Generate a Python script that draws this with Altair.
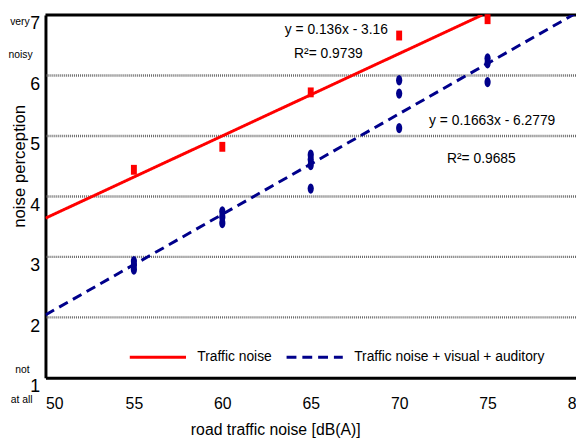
import altair as alt
import pandas as pd

# ---- data ----
red_x = [55, 60, 65, 70, 75]
red_y = [4.44, 4.82, 5.72, 6.66, 6.93]

blue_x = [55, 55, 55, 60, 60, 60, 65, 65, 65, 65, 70, 70, 70, 75, 75, 75]
blue_y = [2.79, 2.86, 2.93, 3.56, 3.66, 3.75, 4.13, 4.52, 4.61, 4.69,
          5.13, 5.70, 5.92, 5.89, 6.20, 6.28]

series_names = ["Traffic noise", "Traffic noise + visual + auditory"]
line_red_x = [50, 74.7]
line_red_y = [3.64, 7.0]
line_blue_x = [50, 80]
line_blue_y = [2.04, 7.03]

eq_text = ["y = 0.136x - 3.16", "R²= 0.9739", "y = 0.1663x - 6.2779", "R²= 0.9685"]
eq_x = [66.45, 66.0, 75.26, 74.65]
eq_y = [6.755, 6.35, 5.24, 4.62]

side_text_a = ["very", "not"]
side_y_a = [6.886, 1.13]
side_text_b = ["noisy", "at all"]
side_y_b = [6.33, 0.625]

x_ticks = [50, 55, 60, 65, 70, 75, 80]
y_ticks = [1, 2, 3, 4, 5, 6, 7]
grid_vals = [2, 3, 4, 5, 6]

FONT = "Liberation Sans, Arial, sans-serif"

lines_df = pd.DataFrame({
    "x": line_red_x + line_blue_x,
    "y": line_red_y + line_blue_y,
    "series": [series_names[0]] * 2 + [series_names[1]] * 2,
})
red_df = pd.DataFrame({"x": red_x, "y": red_y})
blue_df = pd.DataFrame({"x": blue_x, "y": blue_y})
eq_df = pd.DataFrame({"x": eq_x, "y": eq_y, "t": eq_text})
side_a_df = pd.DataFrame({"y": side_y_a, "t": side_text_a})
side_b_df = pd.DataFrame({"y": side_y_b, "t": side_text_b})

xscale = alt.Scale(domain=[50, 80], nice=False, zero=False)
yscale = alt.Scale(domain=[1, 7], nice=False, zero=False)

xaxis = alt.Axis(
    values=x_ticks, format="d", title="road traffic noise [dB(A)]", grid=False, ticks=False,
    domainColor="black", domainWidth=3, labelFont=FONT, labelFontSize=16,
    labelColor="black", labelPadding=18,
    labelAlign=alt.expr("datum.value == 50 ? 'left' : 'center'"),
    titleFont=FONT, titleFontSize=16, titleFontWeight="normal", titleColor="black",
    titleX=233, titleY=52, titleAnchor="middle", titleBaseline="middle",
)
yaxis = alt.Axis(
    values=y_ticks, format="d", title="noise perception", grid=False, ticks=False,
    domainColor="black", domainWidth=3, labelFont=FONT, labelFontSize=18,
    labelColor="black", labelPadding=6, labelBaseline="top",
    titleFont=FONT, titleFontSize=17, titleFontWeight="normal",
    titleColor="black", titleX=-26, titleY=153, titleAngle=270,
    titleAlign="center", titleBaseline="middle",
)

grid = alt.Chart(pd.DataFrame({"g": grid_vals})).mark_rule(
    color="#6a6a6a", strokeWidth=2.5, strokeDash=[1, 1]
).encode(y=alt.Y("g:Q", scale=yscale, axis=yaxis))

top = alt.Chart(pd.DataFrame({"t": [7]})).mark_rule(color="black", strokeWidth=3).encode(
    y=alt.Y("t:Q", scale=yscale)
)

legend_cfg = dict(
    title=None, orient="none", legendX=84, legendY=317, direction="horizontal",
    symbolType="stroke", symbolSize=3249, symbolStrokeWidth=3,
    labelFont=FONT, labelFontSize=14, labelColor="black", labelLimit=400,
    labelOffset=10, columnPadding=8, symbolOffset=0,
)

lines = alt.Chart(lines_df).mark_line(strokeWidth=3, clip=True).encode(
    x=alt.X("x:Q", scale=xscale, axis=xaxis),
    y=alt.Y("y:Q", scale=yscale),
    color=alt.Color("series:N", scale=alt.Scale(domain=series_names, range=["#ff0000", "#00008b"]),
                    legend=alt.Legend(**legend_cfg)),
    strokeDash=alt.StrokeDash("series:N", scale=alt.Scale(domain=series_names, range=[[1, 0], [10, 6]]),
                              legend=alt.Legend(**legend_cfg)),
    detail="series:N",
)

rect_path = "M-0.6,-1 L0.6,-1 L0.6,1 L-0.6,1 Z"
ellipse_path = "M0,-1 A0.6,1 0 1,1 0,1 A0.6,1 0 1,1 0,-1 Z"

red_pts = alt.Chart(red_df).mark_point(shape=rect_path, filled=True, size=100, color="#ff0000", opacity=1).encode(
    x=alt.X("x:Q", scale=xscale), y=alt.Y("y:Q", scale=yscale)
)
blue_pts = alt.Chart(blue_df).mark_point(shape=ellipse_path, filled=True, size=110, color="#00008b", opacity=1).encode(
    x=alt.X("x:Q", scale=xscale), y=alt.Y("y:Q", scale=yscale)
)

eqs = alt.Chart(eq_df).mark_text(font=FONT, fontSize=14, color="black", align="center", baseline="middle").encode(
    x=alt.X("x:Q", scale=xscale), y=alt.Y("y:Q", scale=yscale), text="t:N"
)

side_a = alt.Chart(side_a_df).mark_text(font=FONT, fontSize=10.5, color="black", align="right", baseline="middle").encode(
    x=alt.value(-16), y=alt.Y("y:Q", scale=yscale), text="t:N"
)
side_b = alt.Chart(side_b_df).mark_text(font=FONT, fontSize=10.5, color="black", align="right", baseline="middle").encode(
    x=alt.value(-13), y=alt.Y("y:Q", scale=yscale), text="t:N"
)

chart = alt.layer(grid, top, lines, red_pts, blue_pts, eqs, side_a, side_b).resolve_scale(
    color="shared", strokeDash="shared"
).properties(
    width=538, height=368,
    padding={"left": 38, "top": 4, "right": 0, "bottom": 63},
    autosize=alt.AutoSizeParams(type="none"),
    background="white",
).configure_view(stroke=None)

chart.save("out.html", embed_options={"renderer": "svg", "actions": False})
